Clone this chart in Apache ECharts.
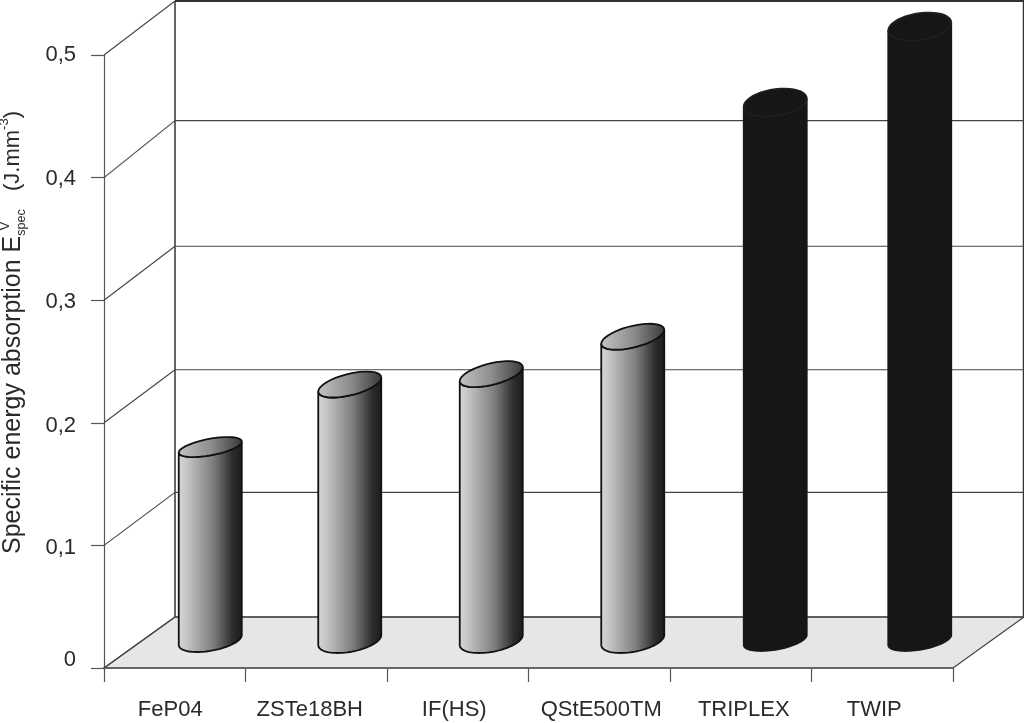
<!DOCTYPE html>
<html>
<head>
<meta charset="utf-8">
<style>html,body{margin:0;padding:0;background:#fff}#c{width:1024px;height:723px}</style>
<script src="https://cdn.jsdelivr.net/npm/echarts@6/dist/echarts.min.js"></script>
</head>
<body>
<div id="c"></div>
<script>
// Data
const categories = ['FeP04', 'ZSTe18BH', 'IF(HS)', 'QStE500TM', 'TRIPLEX', 'TWIP'];
const energyValues = [0.159, 0.21, 0.2185, 0.249, 0.44, 0.502];
const yTicks = [0, 0.1, 0.2, 0.3, 0.4, 0.5];
const yTickLabels = ['0', '0,1', '0,2', '0,3', '0,4', '0,5'];

// Style constants
const FONT = '"Liberation Sans", Arial, sans-serif';
const TEXT = '#2b2a29';
const DEPTH_X = 71;
const WALL_DY = [51, 53, 53, 54, 57, 54];
const BAR_OFF = [35.5, -28];
const BAR_NUDGE = [0, -2, -2, -2, -1, 2];
const BAR_HALF = 31.5;
const CAP_RY = [10, 13, 13, 13, 14, 14];
const CAP_SHEAR = [5.5, 7, 7, 7, 4, 4];
const BASE_RY = [12, 13, 13, 13, 11, 11];
const BASE_SHEAR = [5, 5, 5, 5, 5, 5];
const LABEL_PAD = [[0, 9, 0, 0], [0, 13, 0, 0], [0, 7, 0, 0], [0, 0, 0, 4], [0, 0, 0, 6], [0, 16, 0, 0]];
const Y_LABEL_PAD = [[0, 0, 17, 0], [6, 0, 0, 0], [6, 0, 0, 0], [4, 0, 0, 0], [2, 0, 0, 0], [0, 0, 0, 0]];

const chart = echarts.init(document.getElementById('c'), null, {renderer: 'canvas'});

function ellipsePts(cx, cy, rx, s, ry, from, to) {
  const pts = [];
  const N = 40;
  for (let i = 0; i <= N; i++) {
    const t = from + (to - from) * i / N;
    const b = Math.sqrt(Math.max(ry * ry - s * s, 1));
    pts.push([cx + rx * Math.cos(t), cy + b * Math.sin(t) - s * Math.cos(t)]);
  }
  return pts;
}

function renderFloor(params, api) {
  const cs = params.coordSys;
  const y0 = api.coord([0, 0])[1];
  const dy = WALL_DY[0];
  const l = cs.x, r = cs.x + cs.width;
  const line = (a, b, c, w) => ({type: 'line', shape: {x1: a[0], y1: a[1], x2: b[0], y2: b[1]}, style: {stroke: c, lineWidth: w}});
  const top = api.coord([0, 0.5])[1] - WALL_DY[5];
  return {type: 'group', children: [
    {type: 'polygon', shape: {points: [[l, y0], [r, y0], [r + DEPTH_X, y0 - dy], [l + DEPTH_X, y0 - dy]]},
      style: {fill: '#e5e6e8', stroke: 'none'}},
    line([l + DEPTH_X, y0 - dy], [r + DEPTH_X, y0 - dy], '#555', 1.5),
    line([l, y0], [l + DEPTH_X, y0 - dy], '#444', 1.2),
    line([r, y0], [r + DEPTH_X, y0 - dy], '#444', 1.2),
    line([l + DEPTH_X, y0 - dy], [l + DEPTH_X, top], '#333', 1.5),
    line([r + DEPTH_X - 0.5, y0 - dy], [r + DEPTH_X - 0.5, top], '#333', 1.5),
    line([l, y0], [r, y0], '#666', 2)
  ]};
}

function renderWall(params, api) {
  const cs = params.coordSys;
  const i = params.dataIndex;
  const y = api.coord([0, api.value(1)])[1];
  const by = y - WALL_DY[i];
  const l = cs.x, r = cs.x + cs.width;
  return {type: 'group', children: [
    {type: 'line', shape: {x1: l, y1: y, x2: l + DEPTH_X, y2: by}, style: {stroke: '#444', lineWidth: 1.1}},
    {type: 'line', shape: {x1: l + DEPTH_X, y1: by, x2: r + DEPTH_X, y2: by},
      style: {stroke: i === 5 ? '#333' : '#444', lineWidth: i === 5 ? 2 : 1.1}}
  ]};
}

function renderBar(params, api) {
  const i = api.value(0);
  const top = api.coord([i, api.value(1)]);
  const base = api.coord([i, 0]);
  const cx = top[0] + BAR_OFF[0] + BAR_NUDGE[i];
  const cyT = top[1] + BAR_OFF[1] + 2;
  const cyB = base[1] + BAR_OFF[1];
  const dark = i >= 4;
  const bodyPts = ellipsePts(cx, cyB, BAR_HALF, BASE_SHEAR[i], BASE_RY[i], Math.PI, 0)
    .concat(ellipsePts(cx, cyT, BAR_HALF, CAP_SHEAR[i], CAP_RY[i], 0, Math.PI));
  const capPts = ellipsePts(cx, cyT, BAR_HALF, CAP_SHEAR[i], CAP_RY[i], 0, Math.PI * 2);
  const grad = (stops) => new echarts.graphic.LinearGradient(0, 0, 1, 0, stops);
  const bodyFill = dark ? '#161616' : grad([
    {offset: 0, color: '#d6d6d6'}, {offset: 0.12, color: '#c8c8c8'},
    {offset: 0.55, color: '#7e7d7c'}, {offset: 0.85, color: '#2e2c2a'}, {offset: 1, color: '#1d1b19'}]);
  const capFill = dark ? '#161616' : grad([
    {offset: 0, color: '#c4c4c4'}, {offset: 0.5, color: '#8e8e8e'}, {offset: 1, color: '#3a3836'}]);
  const stroke = dark ? '#1a1816' : '#111';
  return {type: 'group', children: [
    {type: 'polygon', shape: {points: bodyPts}, style: {fill: bodyFill, stroke: stroke, lineWidth: 1.8}},
    {type: 'polygon', shape: {points: capPts}, style: {fill: capFill, stroke: dark ? '#221e1a' : '#111', lineWidth: 1.8}}
  ]};
}

const yLabelRich = {};
Y_LABEL_PAD.forEach((p, i) => {
  yLabelRich['t' + i] = {fontFamily: FONT, fontSize: 22, color: TEXT, padding: p};
});

chart.setOption({
  animation: false,
  backgroundColor: '#fff',
  grid: {left: 104, right: 71, top: 55, bottom: 55, outerBoundsMode: 'none', containLabel: false},
  xAxis: {
    type: 'category',
    data: categories.map((c, i) => ({value: c, textStyle: {padding: LABEL_PAD[i]}})),
    boundaryGap: true,
    axisLine: {show: true, lineStyle: {color: '#666', width: 2}},
    axisTick: {show: true, alignWithLabel: false, length: 14, lineStyle: {color: '#555', width: 1.2}},
    axisLabel: {interval: 0, color: TEXT, fontFamily: FONT, fontSize: 22, margin: 31}
  },
  yAxis: {
    type: 'value', min: 0, max: 0.5, interval: 0.1,
    axisLine: {show: true, lineStyle: {color: '#555', width: 1.2}},
    axisTick: {show: true, length: 13, lineStyle: {color: '#555', width: 1.2}},
    splitLine: {show: false},
    axisLabel: {
      color: TEXT, fontFamily: FONT, fontSize: 22, margin: 28,
      formatter: (v, i) => '{t' + i + '|' + yTickLabels[i] + '}',
      rich: yLabelRich
    },
    name: '{m|Specific energy absorption E}{s|spec}{n|   (J.mm}{u|-3}{n|)}',
    nameLocation: 'middle',
    nameRotate: 90,
    nameGap: 76,
    nameMoveOverlap: false,
    nameTextStyle: {
      padding: [0, 0, 0, 58],
      rich: {
        m: {fontFamily: FONT, fontSize: 25, color: TEXT, lineHeight: 30},
        n: {fontFamily: FONT, fontSize: 22, color: TEXT, lineHeight: 30},
        s: {fontFamily: FONT, fontSize: 12.5, color: TEXT, verticalAlign: 'bottom', lineHeight: 22},
        u: {fontFamily: FONT, fontSize: 13, color: TEXT, verticalAlign: 'top', lineHeight: 22}
      }
    }
  },
  graphic: [{
    type: 'text', x: 5, y: 226, rotation: Math.PI / 2, z: 10,
    style: {text: 'V', fontFamily: FONT, fontSize: 14, fill: TEXT, align: 'center', verticalAlign: 'middle'}
  }],
  series: [
    {type: 'custom', z: 1, silent: true, data: [[0, 0]], renderItem: renderFloor},
    {type: 'custom', z: 2, silent: true, data: yTicks.map(v => [0, v]), renderItem: renderWall},
    {type: 'custom', z: 3, silent: true, data: energyValues.map((v, i) => [i, v]), encode: {x: 0, y: 1}, renderItem: renderBar}
  ]
});
</script>
</body>
</html>
